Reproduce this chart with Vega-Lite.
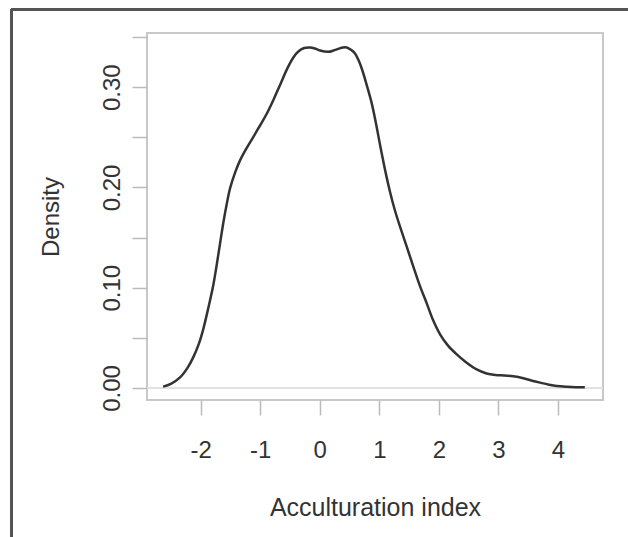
{
  "$schema": "https://vega.github.io/schema/vega-lite/v6.json",
  "width": 456,
  "height": 367,
  "autosize": "none",
  "padding": {"left": 147, "top": 33, "right": 25, "bottom": 137},
  "background": "white",
  "config": {
    "view": {"stroke": "#c8c8c8", "strokeWidth": 2},
    "font": "Liberation Sans"
  },
  "data": {
    "values": [
      {"x": -2.63, "density": 0.0013},
      {"x": -2.5, "density": 0.004},
      {"x": -2.345, "density": 0.0105},
      {"x": -2.22, "density": 0.02},
      {"x": -2.12, "density": 0.031},
      {"x": -2.03, "density": 0.044},
      {"x": -1.954, "density": 0.059},
      {"x": -1.87, "density": 0.08},
      {"x": -1.786, "density": 0.103},
      {"x": -1.7, "density": 0.134},
      {"x": -1.618, "density": 0.165},
      {"x": -1.55, "density": 0.187},
      {"x": -1.506, "density": 0.199},
      {"x": -1.42, "density": 0.215},
      {"x": -1.338, "density": 0.227},
      {"x": -1.22, "density": 0.24},
      {"x": -1.114, "density": 0.2505},
      {"x": -1.0, "density": 0.262},
      {"x": -0.89, "density": 0.2735},
      {"x": -0.78, "density": 0.287},
      {"x": -0.66, "density": 0.303},
      {"x": -0.55, "density": 0.318},
      {"x": -0.443, "density": 0.3296},
      {"x": -0.35, "density": 0.336},
      {"x": -0.26, "density": 0.339},
      {"x": -0.163, "density": 0.3396},
      {"x": -0.08, "density": 0.3385},
      {"x": 0.005, "density": 0.3365},
      {"x": 0.144, "density": 0.3352},
      {"x": 0.23, "density": 0.3365},
      {"x": 0.312, "density": 0.3382},
      {"x": 0.39, "density": 0.3396},
      {"x": 0.453, "density": 0.3396},
      {"x": 0.53, "density": 0.337},
      {"x": 0.592, "density": 0.3336},
      {"x": 0.65, "density": 0.327},
      {"x": 0.705, "density": 0.3186},
      {"x": 0.789, "density": 0.302},
      {"x": 0.873, "density": 0.2838},
      {"x": 0.95, "density": 0.262},
      {"x": 1.012, "density": 0.2425},
      {"x": 1.1, "density": 0.2165},
      {"x": 1.18, "density": 0.1955},
      {"x": 1.26, "density": 0.1775},
      {"x": 1.348, "density": 0.1608},
      {"x": 1.46, "density": 0.141},
      {"x": 1.571, "density": 0.121},
      {"x": 1.68, "density": 0.102},
      {"x": 1.796, "density": 0.0844},
      {"x": 1.9, "density": 0.068},
      {"x": 2.02, "density": 0.0535},
      {"x": 2.15, "density": 0.0425},
      {"x": 2.3, "density": 0.0335},
      {"x": 2.45, "density": 0.026},
      {"x": 2.635, "density": 0.0185},
      {"x": 2.8, "density": 0.0145},
      {"x": 2.95, "density": 0.013},
      {"x": 3.1, "density": 0.0125},
      {"x": 3.25, "density": 0.0116},
      {"x": 3.417, "density": 0.0097},
      {"x": 3.55, "density": 0.0075},
      {"x": 3.7, "density": 0.0053},
      {"x": 3.85, "density": 0.0033},
      {"x": 3.98, "density": 0.002},
      {"x": 4.15, "density": 0.0012},
      {"x": 4.3, "density": 0.0008},
      {"x": 4.45, "density": 0.0007}
    ]
  },
  "layer": [
    {
      "mark": {"type": "rule", "color": "#e0e0e0", "strokeWidth": 1.5},
      "encoding": {"y": {"datum": 0, "type": "quantitative", "scale": {"domain": [-0.012, 0.354], "nice": false, "zero": false}}}
    },
    {
      "mark": {"type": "line", "color": "#333333", "strokeWidth": 2.5, "interpolate": "catmull-rom"},
      "encoding": {
        "x": {
          "field": "x", "type": "quantitative",
          "scale": {"domain": [-2.9, 4.755], "nice": false, "zero": false},
          "axis": {
            "title": "Acculturation index",
            "values": [-2, -1, 0, 1, 2, 3, 4],
            "labelExpr": "'' + datum.value",
            "domain": false, "grid": false,
            "tickColor": "#bbbbbb", "tickWidth": 1.5, "tickSize": 15,
            "labelFontSize": 24, "labelColor": "#333333", "labelPadding": 23,
            "titleFontSize": 25, "titleColor": "#333333", "titleFontWeight": "normal", "titlePadding": 33
          }
        },
        "y": {
          "field": "density", "type": "quantitative",
          "scale": {"domain": [-0.012, 0.354], "nice": false, "zero": false},
          "axis": {
            "title": "Density",
            "values": [0, 0.05, 0.1, 0.15, 0.2, 0.25, 0.3, 0.35],
            "labelExpr": "round(datum.value * 100) % 10 === 0 ? format(datum.value, '.2f') : ''",
            "domain": false, "grid": false,
            "tickColor": "#bbbbbb", "tickWidth": 1.5, "tickSize": 15,
            "labelAngle": -90, "labelAlign": "center", "labelBaseline": "bottom",
            "labelFontSize": 24, "labelColor": "#333333", "labelPadding": 8,
            "titleFontSize": 24, "titleColor": "#333333", "titleFontWeight": "normal", "titlePadding": 37
          }
        }
      }
    },
    {
      "mark": {"type": "rule", "color": "#555555", "strokeWidth": 2},
      "encoding": {
        "x": {"datum": -5.181, "type": "quantitative"},
        "y": {"datum": 0.3777, "type": "quantitative"},
        "y2": {"datum": -0.1485}
      }
    },
    {
      "mark": {"type": "rule", "color": "#555555", "strokeWidth": 2},
      "encoding": {
        "x": {"datum": -5.181, "type": "quantitative"},
        "x2": {"datum": 5.175},
        "y": {"datum": 0.3777, "type": "quantitative"}
      }
    }
  ]
}
